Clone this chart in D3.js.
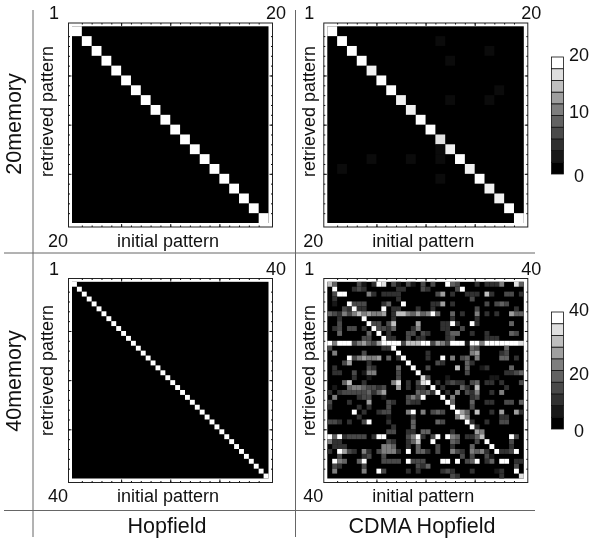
<!DOCTYPE html>
<html>
<head>
<meta charset="utf-8">
<script src="https://d3js.org/d3.v7.min.js"></script>
<style>
  html, body { margin: 0; padding: 0; background: #fff; }
  svg { display: block; filter: blur(0.35px); }
  text { font-family: "Liberation Sans", Arial, sans-serif; fill: #111; }
</style>
</head>
<body>
<script>
// diagonal of each 20 / 40 memory panel
const hopfield20Diag = [20,20,20,20,20,20,20,20,20,20,20,20,20,20,20,20,20,20,20,20];
const hopfield40Diag = [40,40,40,40,40,40,40,40,40,40,40,40,40,40,40,40,40,40,40,40,
                        40,40,40,40,40,40,40,40,40,40,40,40,40,40,40,40,40,40,40,40];
const cdma20Diag = [20,20,20,20,19,20,20,19,19,20,20,18,19,20,19,20,19,19,20,20];
// [row, col, count]
const cdma20Off = [[1,11,1],[2,16,1],[3,12,1],[6,17,1],[7,12,1],[7,16,1],[12,11,1],
                   [13,4,1],[13,8,1],[13,11,1],[14,1,1],[15,11,1]];

// cdma 40 memory, one list per row of [col, shade 0-9]; everything else is 0
const cdma40Rows = [
  [[0,7],[1,4],[6,3],[7,1],[9,2],[10,9],[11,8],[13,3],[14,1],[16,3],[17,1],[19,3],[21,3],[24,9],[25,4],[26,3],[30,2],[32,2],[33,2],[34,2],[35,5],[38,8],[39,4]],
  [[1,9],[5,2],[6,3],[7,2],[14,2],[15,2],[19,3],[20,2],[26,3],[27,9]],
  [[1,3],[2,9],[3,9],[8,5],[9,2],[11,2],[12,2],[13,2],[14,2],[22,3],[23,6],[25,2],[28,2],[29,2],[30,2],[32,7],[33,2],[36,3],[37,3],[39,2]],
  [[1,2],[14,2],[29,3]],
  [[1,1],[4,9],[5,3],[6,3],[7,3],[11,2],[12,4],[15,9],[21,2],[22,2],[23,6],[25,2],[32,3],[34,3],[35,4],[36,3]],
  [[3,3],[4,2],[5,9],[6,2],[7,2],[11,9],[13,2],[14,2],[18,2],[21,2],[30,3],[38,2]],
  [[0,4],[1,3],[2,2],[3,5],[4,3],[5,5],[6,7],[7,5],[8,6],[9,5],[10,5],[11,6],[13,2],[14,7],[15,7],[16,5],[17,4],[18,6],[19,4],[20,5],[21,9],[22,4],[25,4],[27,2],[30,5],[32,2],[34,2],[37,6],[38,4],[39,4]],
  [[2,2],[7,9],[13,2],[25,2],[30,2]],
  [[2,3],[8,9],[9,3],[10,3],[12,3],[13,7],[18,6],[23,2],[24,2],[25,9],[26,2],[29,9],[30,2],[37,4]],
  [[1,2],[2,3],[4,3],[5,3],[7,2],[9,9],[10,3],[11,3],[12,2],[13,4],[17,2],[18,5],[23,2],[24,2],[27,3]],
  [[2,4],[8,4],[10,9],[12,2],[16,3],[17,3],[19,3],[20,2],[24,2],[25,4],[26,4],[29,2],[32,2],[37,4],[38,3]],
  [[7,3],[8,3],[11,9],[12,2],[13,2],[16,3],[18,2],[19,2],[24,2],[25,3],[32,2],[33,2],[34,2]],
  [[0,9],[1,5],[2,9],[3,9],[4,9],[5,3],[6,5],[7,6],[8,4],[9,3],[10,6],[11,9],[12,9],[13,9],[14,9],[15,3],[16,7],[17,7],[18,7],[19,9],[20,9],[21,3],[22,6],[23,5],[24,3],[25,9],[26,9],[27,9],[28,1],[29,9],[30,9],[31,5],[32,9],[33,9],[34,9],[35,9],[36,9],[37,9],[38,9],[39,8]],
  [[0,3],[11,2],[12,2],[13,9],[29,4],[30,3],[36,4]],
  [[1,5],[7,3],[14,9],[20,2],[29,5],[30,6],[35,2],[36,3]],
  [[4,9],[5,3],[6,5],[7,6],[8,5],[9,5],[10,6],[12,4],[14,2],[15,9],[20,2],[23,9],[25,5],[27,3],[28,4],[30,5],[35,4],[36,4],[38,2]],
  [[3,3],[4,6],[8,2],[16,9],[22,3],[23,2],[28,4],[29,2]],
  [[1,2],[8,3],[9,2],[14,4],[17,9],[20,3],[26,7],[28,4],[31,1],[32,2],[37,4]],
  [[1,2],[2,2],[5,3],[7,1],[8,5],[9,5],[14,3],[18,9],[28,3],[36,2],[37,2],[38,3],[39,4]],
  [[5,2],[8,1],[14,3],[19,8],[20,3],[24,1],[33,1],[34,1]],
  [[3,4],[4,7],[7,2],[13,5],[14,8],[16,2],[18,3],[19,8],[20,9],[22,2],[24,2],[25,3],[26,2],[27,2],[29,3],[30,4],[32,2],[33,2],[35,2],[39,3]],
  [[1,1],[4,4],[5,5],[6,5],[7,4],[8,3],[9,3],[10,2],[11,3],[14,6],[16,2],[18,2],[19,2],[21,9],[23,2],[27,4],[28,2],[30,7],[36,2]],
  [[0,2],[2,2],[3,3],[4,3],[5,3],[6,3],[7,3],[8,4],[9,2],[10,4],[11,6],[18,4],[19,3],[20,4],[21,2],[22,9],[24,2],[26,5],[28,3],[29,2],[30,5],[33,2],[35,5]],
  [[1,5],[6,2],[7,3],[8,3],[11,1],[16,3],[17,5],[18,3],[19,9],[23,9],[25,5],[29,2],[30,3]],
  [[0,3],[4,2],[8,6],[12,3],[13,2],[16,3],[17,2],[18,2],[24,9],[25,4],[29,4],[32,2],[33,2],[36,3],[37,3],[39,4]],
  [[0,2],[6,2],[8,2],[12,3],[25,9],[29,3]],
  [[5,9],[7,2],[10,2],[11,3],[12,3],[16,5],[17,9],[19,5],[21,3],[22,4],[23,3],[26,9],[27,6],[28,4],[30,7],[33,2],[35,6],[38,6],[39,2]],
  [[6,2],[12,1],[17,2],[26,5],[27,8],[28,5],[35,2],[36,2]],
  [[0,3],[1,3],[2,2],[4,2],[7,3],[8,9],[12,2],[17,4],[22,4],[23,3],[28,9],[29,2],[32,2],[35,3],[36,3]],
  [[13,2],[17,4],[29,9],[30,2]],
  [[12,3],[13,3],[16,2],[17,2],[19,4],[20,4],[25,2],[30,6],[31,5]],
  [[0,9],[1,4],[2,9],[3,2],[4,3],[5,3],[6,3],[7,3],[9,2],[10,9],[11,9],[16,3],[17,5],[18,9],[19,2],[21,3],[22,9],[24,9],[25,5],[26,4],[28,2],[29,2],[30,4],[31,7],[37,9],[38,3]],
  [[0,5],[1,2],[2,2],[12,3],[13,2],[16,2],[17,4],[18,7],[21,9],[25,4],[26,3],[30,3],[32,9],[37,3]],
  [[1,2],[2,2],[3,2],[11,5],[12,5],[13,4],[16,2],[18,4],[22,3],[25,2],[29,4],[33,9],[37,2]],
  [[0,2],[2,9],[3,6],[4,3],[5,2],[7,5],[8,2],[10,3],[11,5],[12,5],[13,5],[14,2],[16,9],[18,4],[19,4],[20,2],[22,3],[25,5],[26,3],[27,2],[29,5],[30,4],[31,5],[32,2],[34,9],[35,2],[36,2],[37,3],[38,9]],
  [[2,3],[7,2],[8,3],[11,3],[27,3],[29,3],[32,3],[33,1]],
  [[1,9],[2,5],[3,4],[6,4],[7,9],[11,3],[12,3],[13,3],[14,3],[16,9],[17,3],[18,3],[19,3],[23,9],[24,9],[26,9],[28,3],[29,4],[30,9],[32,2],[33,4],[35,9],[36,9],[38,2],[39,2]],
  [[1,3],[2,2],[7,3],[18,3],[19,2],[20,4],[38,3]],
  [[1,5],[7,5],[10,9],[11,3],[16,2],[18,2],[23,2],[24,3],[25,2],[29,2],[34,1],[35,2],[38,9]],
  [[25,3],[26,2],[35,2],[39,8]]
];

const legend20Values = [0, 2.2, 4.4, 6.7, 8.9, 11.1, 13.3, 15.6, 17.8, 20];
const legend40Values = [0, 4.4, 8.9, 13.3, 17.8, 22.2, 26.7, 31.1, 35.6, 40];
const legend20Ticks = [20, 10, 0];
const legend40Ticks = [40, 20, 0];

const width = 589;
const height = 541;
const svg = d3.select("body").append("svg")
    .attr("width", width)
    .attr("height", height);

function cellsFromDiag(diag, off) {
    let cells = diag.map((v, i) => ({row: i, col: i, value: v}));
    (off || []).forEach(d => cells.push({row: d[0], col: d[1], value: d[2]}));
    return cells;
}

let cdma40Cells = [];
cdma40Rows.forEach((list, row) => {
    list.forEach(d => cdma40Cells.push({row: row, col: d[0], value: d[1] * 40 / 9}));
});

// same grey ramp as the legend strips, darker in the low half
const shade = t => d3.scaleLinear().domain([0, 0.5, 1]).range(["#000", "#6e6e6e", "#fff"])(t);

function drawPanel(left, top, n, cells, titleX, titleY) {
    const g = svg.append("g");
    const x = d3.scaleBand().domain(d3.range(n)).range([left + 4, left + 200.5]);
    const y = d3.scaleBand().domain(d3.range(n)).range([top + 3.8, top + 200.5]);
    const frameR = left + 204.5, frameB = top + 204.5;

    g.append("rect").attr("x", left + 0.5).attr("y", top + 0.5)
        .attr("width", 204).attr("height", 204)
        .attr("fill", "#fff").attr("stroke", "#222").attr("stroke-width", 1);

    g.append("rect").attr("x", x(0)).attr("y", y(0))
        .attr("width", x.bandwidth() * n).attr("height", y.bandwidth() * n)
        .attr("fill", "#000");

    g.selectAll("rect.cell").data(cells).enter().append("rect")
        .attr("class", "cell")
        .attr("x", d => x(d.col))
        .attr("y", d => y(d.row))
        .attr("width", x.bandwidth())
        .attr("height", y.bandwidth())
        .attr("fill", d => shade(d.value / n));

    // ticks point inward on all four sides
    const px = d3.scaleLinear().domain([0, n]).range([left + 4, left + 200.5]);
    const py = d3.scaleLinear().domain([0, n]).range([top + 3.8, top + 200.5]);
    const step = n / 20;
    const minor = d3.range(step, n, step);
    const major = d3.range(5 * step, n, 5 * step);
    [[minor, 1.5], [major, 3]].forEach(([vals, len]) => {
        const sides = [
            [d3.axisTop(px), `translate(0,${top + 0.5})`, -len],
            [d3.axisBottom(px), `translate(0,${frameB})`, -len],
            [d3.axisLeft(py), `translate(${left + 0.5},0)`, -len],
            [d3.axisRight(py), `translate(${frameR},0)`, -len]
        ];
        sides.forEach(([axis, tr, size]) => {
            const a = g.append("g").attr("transform", tr)
                .call(axis.tickValues(vals).tickSize(size).tickFormat(""));
            a.select(".domain").remove();
            a.selectAll("line").attr("stroke", "#111");
        });
    });

    const label = (txt, tx, ty, anchor) => g.append("text").attr("x", tx).attr("y", ty)
        .attr("text-anchor", anchor).attr("font-size", 18).text(txt);
    label("1", left - 14, top - 3.5, "middle");
    label(String(n), left + 208, top - 3.5, "middle");
    label(String(n), left - 10, top + 224, "middle");
    label("initial pattern", left + 100, top + 224, "middle");
    g.append("text")
        .attr("transform", `translate(${titleX},${titleY}) rotate(-90)`)
        .attr("text-anchor", "middle").attr("font-size", 18)
        .text("retrieved pattern");
}

function drawLegend(top, values, ticks, tickY) {
    const g = svg.append("g");
    const max = values[values.length - 1];
    const y = d3.scaleBand().domain(values.slice().reverse()).range([top, top + 117]);
    g.selectAll("rect").data(values).enter().append("rect")
        .attr("x", 551.5)
        .attr("y", d => y(d))
        .attr("width", 12)
        .attr("height", y.bandwidth())
        .attr("fill", d => shade(d / max))
        .attr("stroke", "#111")
        .attr("stroke-width", 0.8);
    g.selectAll("text").data(ticks).enter().append("text")
        .attr("x", 579)
        .attr("y", (d, i) => tickY[i])
        .attr("text-anchor", "middle")
        .attr("font-size", 18)
        .text(d => d);
}

drawPanel(68, 22.5, 20, cellsFromDiag(hopfield20Diag), 53, 111.5);
drawPanel(323.3, 22.5, 20, cellsFromDiag(cdma20Diag, cdma20Off), 315, 111.5);
drawPanel(68, 278, 40, cellsFromDiag(hopfield40Diag), 53, 370.5);
drawPanel(323.3, 278, 40, cdma40Cells, 315, 370.5);

drawLegend(57, legend20Values, legend20Ticks, [60.5, 118, 182]);
drawLegend(312, legend40Values, legend40Ticks, [315.5, 379.5, 437]);

// grid of grey rules between the panels
const rules = [[33, 10, 33, 537], [295.5, 10, 295.5, 537], [4, 253, 535, 253], [4, 510.5, 535, 510.5]];
svg.selectAll("line.rule").data(rules).enter().append("line")
    .attr("class", "rule")
    .attr("x1", d => d[0]).attr("y1", d => d[1])
    .attr("x2", d => d[2]).attr("y2", d => d[3])
    .attr("stroke", "#666").attr("stroke-width", 1);

const big = (txt, tx, ty, rot) => svg.append("text")
    .attr("transform", `translate(${tx},${ty})` + (rot ? " rotate(-90)" : ""))
    .attr("text-anchor", "middle").attr("font-size", 21.5).text(txt);
big("20memory", 21, 124, true);
big("40memory", 21, 381, true);
big("Hopfield", 167, 533, false);
big("CDMA Hopfield", 422, 533, false);
</script>
</body>
</html>
